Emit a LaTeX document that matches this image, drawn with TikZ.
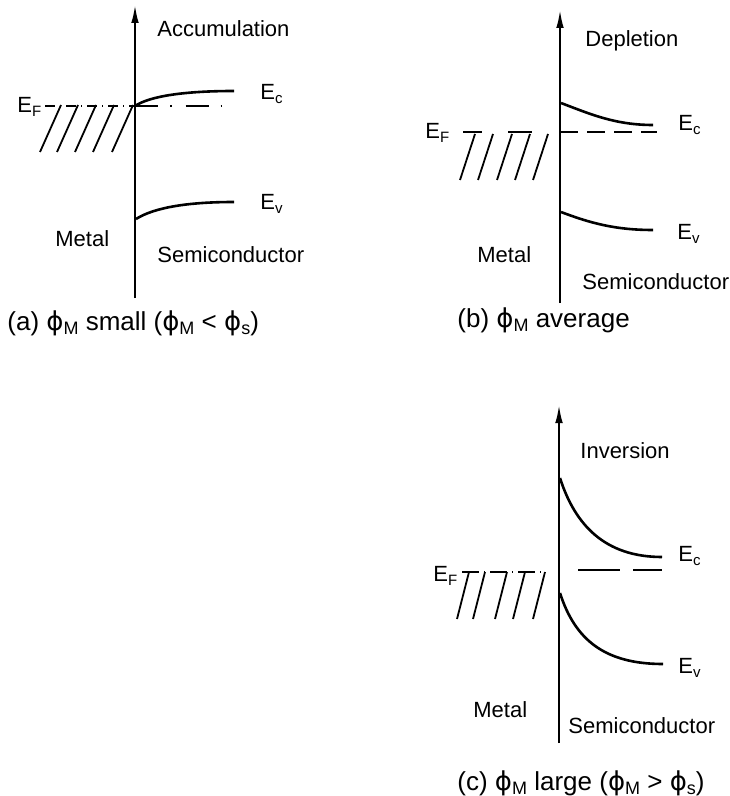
\documentclass[tikz,border=0pt]{standalone}
\usepackage{fontspec}
\setmainfont{Liberation Sans}
\newfontfamily\phifont{DejaVu Sans}
\usetikzlibrary{arrows.meta}
\newcommand\sbs[1]{\raisebox{-2pt}{\fontsize{7.5}{8}\selectfont #1}}
\newcommand\csbs[1]{\raisebox{-2.3pt}{\fontsize{9}{9}\selectfont #1}}
\newcommand\ph{{\phifont ϕ}}
\begin{document}
\begin{tikzpicture}[x=0.5pt,y=-0.5pt,
  lbl/.style={anchor=base west,inner sep=0pt,font=\fontsize{11}{13}\selectfont},
  capt/.style={anchor=base west,inner sep=0pt,font=\fontsize{13}{15}\selectfont},
  axis/.style={line width=1pt,-{Latex[length=9pt,width=3.8pt]}},
  band/.style={line width=1.3pt},
  hatch/.style={line width=0.9pt},
  fermi/.style={line width=0.9pt}]
\useasboundingbox (0,0) rectangle (729,796);

% ---------------- (a) accumulation
\coordinate (a0) at (135,298); \coordinate (a1) at (135,5);
\draw[axis] (a0) -- (a1);
\coordinate (aF0) at (45,106); \coordinate (aF1) at (135,106); \coordinate (aF2) at (222,106);
\draw[fermi,dash pattern=on 5pt off 2.5pt on 0.5pt off 2.5pt] (aF0) -- (aF1);
\draw[fermi,dash pattern=on 11.5pt off 6pt on 0.8pt off 7pt] (aF1) -- (aF2);
\coordinate (aC0) at (135,106); \coordinate (aC1) at (234,91);
\draw[band] (aC0) .. controls (150,96) and (185,91) .. (aC1);
\coordinate (aV0) at (136,219); \coordinate (aV1) at (234,202);
\draw[band] (aV0) .. controls (155,207) and (190,202) .. (aV1);
\foreach \x in {40,57,75,93,112} \draw[hatch] (\x,152) -- ++(21,-47);
\node[lbl] (aacc) at (157,37) {Accumulation};
\node[lbl] (aEc) at (260,100) {E\sbs{c}};
\node[lbl] (aEF) at (17,113) {E\sbs{F}};
\node[lbl] (aEv) at (260,210) {E\sbs{v}};
\node[lbl] (amet) at (55,247) {Metal};
\node[lbl] (asem) at (157,263) {Semiconductor};
\node[capt] (acap) at (7,330) {(a) \ph\csbs{M} small (\ph\csbs{M} < \ph\csbs{s})};

% ---------------- (b) depletion
\coordinate (b0) at (560,303); \coordinate (b1) at (560,10);
\draw[axis] (b0) -- (b1);
\coordinate (bF0) at (463,132); \coordinate (bF1) at (533,132);
\coordinate (bF2) at (560,132); \coordinate (bF3) at (657,132);
\draw[fermi,dash pattern=on 9.5pt off 13pt on 12pt off 20pt] (bF0) -- (bF1);
\draw[fermi,dash pattern=on 9pt off 4.5pt] (bF2) -- (bF3);
\coordinate (bC0) at (561,103); \coordinate (bC1) at (653,125);
\draw[band] (bC0) .. controls (590,114) and (615,125) .. (bC1);
\coordinate (bV0) at (561,212); \coordinate (bV1) at (653,230);
\draw[band] (bV0) .. controls (590,223) and (615,230) .. (bV1);
\foreach \x in {460,478,497,515,533} \draw[hatch] (\x,180) -- ++(15,-46);
\node[lbl] (bdep) at (585,47) {Depletion};
\node[lbl] (bEF) at (425,139) {E\sbs{F}};
\node[lbl] (bEc) at (678,131) {E\sbs{c}};
\node[lbl] (bEv) at (677,240) {E\sbs{v}};
\node[lbl] (bmet) at (477,263) {Metal};
\node[lbl] (bsem) at (582,290) {Semiconductor};
\node[capt] (bcap) at (457,327) {(b) \ph\csbs{M} average};

% ---------------- (c) inversion
\coordinate (c0) at (559,743); \coordinate (c1) at (559,405);
\draw[axis] (c0) -- (c1);
\coordinate (cF0) at (462,572); \coordinate (cF1) at (545,572);
\coordinate (cF2) at (558,570); \coordinate (cF3) at (662,570);
\draw[fermi,dash pattern=on 8.5pt off 2.5pt on 0.5pt off 2.5pt] (cF0) -- (cF1);
\draw[fermi,dash pattern=on 0.5pt off 9.5pt on 21pt off 6.5pt on 20pt off 5pt] (cF2) -- (cF3);
\coordinate (cC0) at (560,478); \coordinate (cC1) at (662,557);
\draw[band] (cC0) .. controls (575,525) and (605,557) .. (cC1);
\coordinate (cV0) at (560,593); \coordinate (cV1) at (663,664);
\draw[band] (cV0) .. controls (575,640) and (605,664) .. (cV1);
\foreach \x in {457,473,495,513,533} \draw[hatch] (\x,619) -- ++(12,-47);
\node[lbl] (cinv) at (580,458) {Inversion};
\node[lbl] (cEc) at (678,561) {E\sbs{c}};
\node[lbl] (cEF) at (433,581) {E\sbs{F}};
\node[lbl] (cEv) at (678,673) {E\sbs{v}};
\node[lbl] (cmet) at (473,717) {Metal};
\node[lbl] (csem) at (568,733) {Semiconductor};
\node[capt] (ccap) at (457,790) {(c) \ph\csbs{M} large (\ph\csbs{M} > \ph\csbs{s})};
\end{tikzpicture}
\end{document}
